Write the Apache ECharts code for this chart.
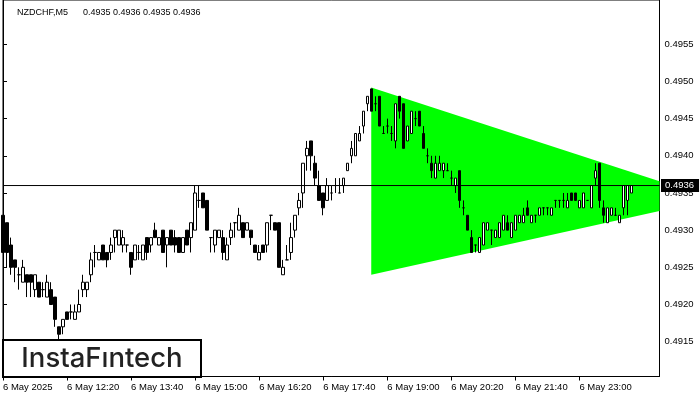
<!DOCTYPE html>
<html>
<head>
<meta charset="utf-8">
<script src="https://cdn.jsdelivr.net/npm/echarts@6/dist/echarts.min.js"></script>
<style>html,body{margin:0;padding:0;background:#fff}#c{width:700px;height:400px}</style>
</head>
<body>
<div id="c"></div>
<script>
// ---- data ----
var symbolTitle = 'NZDCHF,M5';
var lastQuote = '0.4935 0.4936 0.4935 0.4936';
var startMinute = 11 * 60;      // first bar 11:00, M5 bars
var barCount = 165;            // slots on the time axis (incl. empty right shift)
var opens = [.4932,.4931,.4928,.4926,.4924,.4923,.4924,.4924,.4922,.4923,.4922,.4921,.4922,.4921,.4917,.4917,.4919,.4919,.4918,.4919,
.4922,.4922,.4924,.4927,.4926,.4928,.4927,.4927,.4929,.4928,.4928,.4928,.4927,.4926,.4927,.4926,.4929,.4928,.4930,.4928,
.4930,.4928,.4930,.4929,.4929,.4927,.4930,.4929,.4930,.4934,.4935,.4934,.4929,.4928,.4929,.4929,.4926,.4929,.4931,.4930,
.4931,.4930,.4930,.4928,.4926,.4928,.4928,.4932,.4931,.4931,.4924,.4926,.4927,.4930,.4933,.4935,.4940,.4942,.4939,.4936,
.4935,.4934,.4935,.4936,.4935,.4936,.4938,.4940,.4940,.4942,.4944,.4947,.4949,.4947,.4948,.4943,.4944,.4943,.4942,.4948,
.4947,.4942,.4943,.4945,.4946,.4943,.4940,.4939,.4937,.4938,.4938,.4938,.4937,.4936,.4938,.4933,.4932,.4929,.4928,.4927,
.4928,.4930,.4930,.4929,.4929,.4930,.4931,.4929,.4930,.4931,.4931,.4933,.4931,.4932,.4932,.4933,.4933,.4932,.4934,.4934,
.4934,.4933,.4935,.4935,.4933,.4933,.4934,.4933,.4937,.4939,.4933,.4931,.4932,.4932,.4931,.4933,.4934,.4935];
var highs = [.4932,.4931,.4929,.4926,.4925,.4926,.4924,.4924,.4924,.4923,.4923,.4924,.4923,.4921,.4917,.4918,.4919,.4920,.4920,.4922,
.4924,.4923,.4927,.4928,.4927,.4928,.4927,.4929,.4930,.4930,.4930,.4928,.4927,.4928,.4928,.4928,.4929,.4929,.4931,.4929,
.4930,.4929,.4930,.4930,.4929,.4929,.4930,.4931,.4936,.4936,.4935,.4934,.4929,.4930,.4930,.4930,.4929,.4931,.4931,.4933,
.4931,.4931,.4930,.4928,.4928,.4928,.4931,.4932,.4931,.4931,.4926,.4928,.4931,.4932,.4935,.4939,.4942,.4942,.4940,.4938,
.4935,.4937,.4936,.4937,.4937,.4937,.4939,.4942,.4943,.4944,.4946,.4948,.4949,.4948,.4948,.4944,.4945,.4944,.4947,.4948,
.4947,.4944,.4946,.4946,.4946,.4944,.4941,.4940,.4940,.4940,.4939,.4939,.4938,.4937,.4938,.4934,.4932,.4930,.4928,.4929,
.4931,.4931,.4930,.4930,.4931,.4932,.4932,.4931,.4932,.4932,.4933,.4934,.4932,.4932,.4933,.4933,.4933,.4933,.4934,.4934,
.4935,.4935,.4935,.4935,.4934,.4935,.4934,.4936,.4939,.4939,.4934,.4933,.4933,.4933,.4932,.4936,.4936,.4936];
var lows = [.4927,.4925,.4924,.4923,.4922,.4923,.4921,.4921,.4921,.4921,.4921,.4921,.4920,.4917,.4915,.4916,.4918,.4918,.4918,.4919,
.4921,.4921,.4923,.4925,.4926,.4926,.4925,.4926,.4927,.4928,.4927,.4927,.4924,.4926,.4926,.4926,.4926,.4927,.4929,.4928,
.4927,.4925,.4928,.4927,.4927,.4927,.4928,.4927,.4930,.4933,.4933,.4930,.4927,.4927,.4929,.4926,.4926,.4928,.4929,.4930,
.4929,.4930,.4928,.4927,.4926,.4927,.4927,.4930,.4930,.4925,.4924,.4926,.4926,.4929,.4932,.4933,.4938,.4938,.4936,.4934,
.4932,.4934,.4934,.4935,.4935,.4935,.4938,.4939,.4940,.4942,.4943,.4946,.4946,.4946,.4944,.4943,.4943,.4942,.4941,.4945,
.4941,.4942,.4943,.4944,.4944,.4941,.4939,.4937,.4937,.4938,.4937,.4938,.4936,.4935,.4933,.4932,.4930,.4927,.4927,.4927,
.4928,.4930,.4928,.4929,.4929,.4930,.4930,.4929,.4930,.4931,.4931,.4932,.4931,.4931,.4932,.4932,.4932,.4932,.4933,.4933,
.4933,.4933,.4934,.4934,.4933,.4933,.4934,.4933,.4936,.4933,.4931,.4931,.4932,.4932,.4931,.4932,.4932,.4935];
var closes = [.4927,.4927,.4925,.4925,.4924,.4925,.4923,.4923,.4924,.4921,.4922,.4923,.4920,.4918,.4916,.4918,.4918,.4919,.4919,.4920,
.4923,.4923,.4926,.4927,.4927,.4926,.4926,.4928,.4930,.4930,.4929,.4928,.4925,.4928,.4927,.4928,.4927,.4929,.4929,.4929,
.4927,.4929,.4928,.4928,.4927,.4929,.4928,.4931,.4935,.4934,.4933,.4930,.4929,.4930,.4930,.4927,.4928,.4930,.4931,.4932,
.4929,.4931,.4929,.4927,.4927,.4927,.4931,.4932,.4930,.4925,.4925,.4926,.4929,.4932,.4934,.4939,.4941,.4940,.4937,.4934,
.4933,.4936,.4935,.4936,.4935,.4937,.4939,.4941,.4943,.4943,.4946,.4948,.4946,.4947,.4944,.4943,.4944,.4943,.4947,.4946,
.4941,.4944,.4946,.4945,.4944,.4941,.4940,.4938,.4939,.4939,.4939,.4938,.4937,.4937,.4934,.4933,.4930,.4927,.4928,.4929,
.4931,.4931,.4930,.4930,.4931,.4932,.4930,.4931,.4932,.4932,.4932,.4932,.4932,.4932,.4933,.4933,.4933,.4933,.4934,.4934,
.4934,.4934,.4934,.4934,.4934,.4935,.4934,.4936,.4938,.4934,.4932,.4933,.4933,.4932,.4932,.4936,.4936,.4936];
var yTicks = [0.4915, 0.4920, 0.4925, 0.4930, 0.4935, 0.4940, 0.4945, 0.4950, 0.4955];
var currentPrice = 0.4936;
// symmetrical triangle pattern: start bar, upper & lower start prices, apex bar & price
var triStartBar = 92, triTopStart = 0.49492, triBottomStart = 0.49240;
var triApexBar = 177.6, triApexPrice = 0.49342;
var logoText = 'InstaF\u0131ntech';

// ---- build ----
var categories = [];
for (var i = 0; i < barCount; i++) {
  var m = startMinute + 5 * i;
  var day = 6 + Math.floor(m / 1440);
  m = m % 1440;
  var hh = Math.floor(m / 60), mm = m % 60;
  categories.push(day + ' May ' + (hh < 10 ? '0' : '') + hh + ':' + (mm < 10 ? '0' : '') + mm);
}
var candleData = opens.map(function (o, k) { return [o, closes[k], lows[k], highs[k]]; });
var lastSlot = barCount - 1;
function lineAt(x0, y0, x1, y1, x) { return y0 + (y1 - y0) * (x - x0) / (x1 - x0); }
var triTopEnd = lineAt(triStartBar, triTopStart, triApexBar, triApexPrice, lastSlot);
var triBotEnd = lineAt(triStartBar, triBottomStart, triApexBar, triApexPrice, lastSlot);

var FONT = 'Liberation Sans';
var chart = echarts.init(document.getElementById('c'), null, {renderer: 'canvas'});
var labelEvery = function (idx) { return idx % 16 === 0 && idx <= 150; };
chart.setOption({
  animation: false,
  backgroundColor: '#fff',
  grid: {left: 2.5, right: 40.5, top: -2, bottom: 23.5, show: true, borderColor: '#000', borderWidth: 1, backgroundColor: '#fff'},
  xAxis: [{
    type: 'category', data: categories, boundaryGap: false,
    axisLine: {show: true, lineStyle: {color: '#000', width: 1}},
    axisTick: {show: true, interval: labelEvery, length: 4, lineStyle: {color: '#000'}},
    axisLabel: {interval: labelEvery, align: 'left', margin: 6, color: '#000', fontFamily: FONT, fontSize: 9.5,
      formatter: function (v, idx) { return idx === 0 ? '6 May 2025' : v; }},
    splitLine: {show: false}
  }, {
    type: 'value', min: 0, max: lastSlot, show: false
  }],
  yAxis: {
    type: 'value', position: 'right', min: 0.4910317, max: 0.4960953, scale: true,
    splitLine: {show: false},
    axisLine: {show: true, lineStyle: {color: '#000'}},
    axisTick: {show: true, customValues: yTicks, length: 4, lineStyle: {color: '#000'}},
    axisLabel: {customValues: yTicks, margin: 5, color: '#000', fontFamily: FONT, fontSize: 9.5,
      formatter: function (v) { return v.toFixed(4); }}
  },
  series: [{
    type: 'custom', xAxisIndex: 1, yAxisIndex: 0, z: 1, silent: true,
    data: [[triStartBar, triTopStart]],
    renderItem: function (params, api) {
      var pts = [
        api.coord([triStartBar, triTopStart]),
        api.coord([lastSlot, triTopEnd]),
        api.coord([lastSlot, triBotEnd]),
        api.coord([triStartBar, triBottomStart])
      ];
      return {type: 'polygon', shape: {points: pts}, style: {fill: '#00ff00', stroke: null}};
    }
  }, {
    type: 'candlestick', xAxisIndex: 0, z: 3, clip: false,
    data: candleData, barWidth: 3,
    itemStyle: {color: '#ffffff', color0: '#000000', borderColor: '#000000', borderColor0: '#000000', borderWidth: 1}
  }, {
    type: 'line', xAxisIndex: 1, yAxisIndex: 0, z: 5, silent: true,
    data: [[0, currentPrice], [lastSlot, currentPrice]],
    symbol: 'none', lineStyle: {color: '#000', width: 1},
    endLabel: {show: true, distance: 1.5, formatter: currentPrice.toFixed(4),
      backgroundColor: '#000', color: '#fff', padding: [2, 5, 1, 4], fontFamily: FONT, fontSize: 9.5}
  }],
  graphic: [
    {type: 'text', left: 17, top: 8, z: 10, style: {text: symbolTitle, font: '9px "Liberation Sans"', fill: '#000'}},
    {type: 'text', left: 83, top: 8, z: 10, style: {text: lastQuote, font: '9px "Liberation Sans"', fill: '#000'}},
    {type: 'rect', z: 10, shape: {x: 3, y: 340, width: 198, height: 37}, style: {fill: '#fff', stroke: '#000', lineWidth: 2}},
    {type: 'text', z: 11, x: 102, y: 359, style: {text: logoText, font: '500 27.5px Inter', fill: '#222', textAlign: 'center', textVerticalAlign: 'middle'}}
  ]
});
</script>
</body>
</html>
